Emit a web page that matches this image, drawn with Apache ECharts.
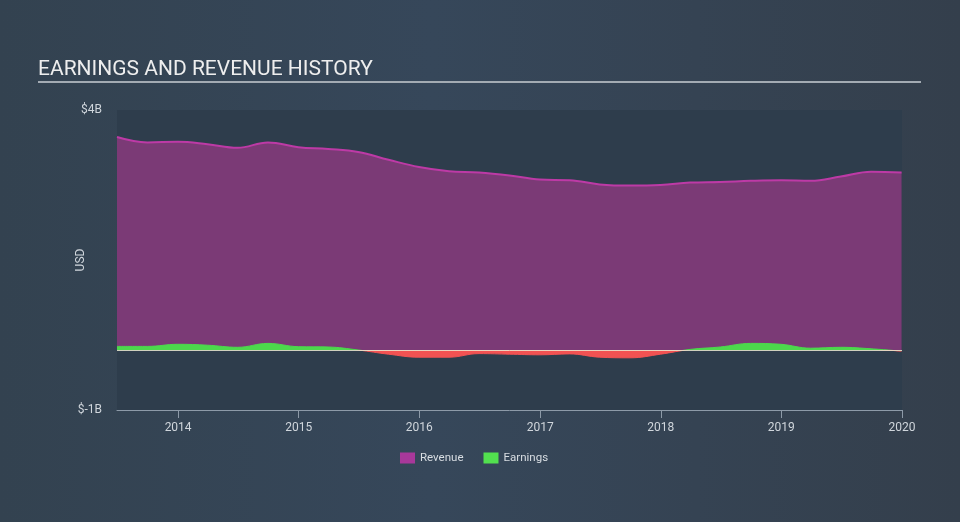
<!DOCTYPE html>
<html>
<head>
<meta charset="utf-8">
<script src="https://cdn.jsdelivr.net/npm/echarts@6/dist/echarts.min.js"></script>
<style>
html,body{margin:0;padding:0;width:960px;height:522px;overflow:hidden;}
body{background:linear-gradient(90deg,#334250 0%,#36475a 45%,#343f4c 100%);}
#chart{width:960px;height:522px;}
</style>
</head>
<body>
<div id="chart"></div>
<script>
const dates = ['2013-06-30','2013-09-30','2013-12-31','2014-03-31','2014-06-30','2014-09-30','2014-12-31',
  '2015-03-31','2015-06-30','2015-09-30','2015-12-31','2016-03-31','2016-06-30','2016-09-30','2016-12-31',
  '2017-03-31','2017-06-30','2017-09-30','2017-12-31','2018-03-31','2018-06-30','2018-09-30','2018-12-31',
  '2019-03-31','2019-06-30','2019-09-30','2019-12-31'];
const revenue = [3.55,3.46,3.47,3.43,3.37,3.46,3.38,3.35,3.30,3.17,3.05,2.98,2.96,2.91,2.84,2.83,2.76,2.74,2.75,2.79,2.80,2.82,2.83,2.82,2.89,2.97,2.96];
const earnings = [0.06,0.06,0.095,0.08,0.045,0.11,0.055,0.05,0.0,-0.07,-0.12,-0.12,-0.06,-0.07,-0.08,-0.065,-0.12,-0.13,-0.07,0.01,0.05,0.11,0.095,0.03,0.045,0.02,-0.02];
const yTicks = [-1, 4];

const chart = echarts.init(document.getElementById('chart'), null, {renderer:'canvas'});
const ts = s => new Date(s + 'T00:00:00Z').getTime();
const YEAR = 365.25 * 24 * 3600 * 1000;
chart.setOption({
  backgroundColor: 'transparent',
  useUTC: true,
  textStyle: {fontFamily: 'Roboto, "Noto Sans", sans-serif'},
  title: {
    text: 'EARNINGS AND REVENUE HISTORY',
    left: 38, top: 59, padding: 0,
    textStyle: {color: '#eeeeee', fontSize: 21, fontWeight: 'normal', fontFamily: 'Roboto'}
  },
  graphic: [{
    type: 'rect', shape: {x: 38, y: 81, width: 883, height: 2},
    style: {fill: '#a3abb3'}, silent: true
  }],
  legend: {
    data: ['Revenue', 'Earnings'],
    left: 395, top: 447,
    itemWidth: 15, itemHeight: 11, itemGap: 20,
    icon: 'rect',
    textStyle: {color: '#d8dde2', fontSize: 11.5}
  },
  grid: {
    left: 117, right: 58, top: 110, bottom: 112,
    show: true, backgroundColor: '#2e3d4c', borderWidth: 0
  },
  xAxis: {
    type: 'time',
    min: ts('2013-06-30'), max: ts('2020-01-01') + 6 * 3600 * 1000,
    minInterval: YEAR, maxInterval: YEAR,
    axisLine: {show: true, onZero: false, lineStyle: {color: '#8d9aa8', width: 1}},
    axisTick: {show: true, length: 8, lineStyle: {color: '#8d9aa8'}},
    axisLabel: {
      color: '#d0d6dc', fontSize: 12, margin: 12, showMaxLabel: true,
      formatter: v => String(new Date(v).getUTCFullYear())
    },
    splitLine: {show: false}
  },
  yAxis: {
    type: 'value', min: -1, max: 4,
    name: 'USD', nameLocation: 'middle', nameGap: 30, nameRotate: 90,
    nameMoveOverlap: false,
    nameTextStyle: {color: '#d0d6dc', fontSize: 12},
    axisLine: {show: false}, axisTick: {show: false},
    axisLabel: {
      color: '#d0d6dc', fontSize: 12, margin: 15,
      customValues: yTicks,
      formatter: v => '$' + v + 'B'
    },
    splitLine: {show: false}
  },
  visualMap: {
    type: 'piecewise', show: false, seriesIndex: 1, dimension: 1,
    pieces: [{gt: 0, lte: 4, color: '#4cd84c'}, {gte: -1, lte: 0, color: '#f25252'}]
  },
  series: [{
    name: 'Revenue', type: 'line', smooth: 0.4, symbol: 'none',
    data: dates.map((d, i) => [ts(d), revenue[i]]),
    itemStyle: {color: '#a8389a'},
    lineStyle: {color: '#bd3aa6', width: 2},
    areaStyle: {color: '#7b3a76', opacity: 1},
    z: 2
  }, {
    name: 'Earnings', type: 'line', smooth: 0.4, symbol: 'none',
    data: dates.map((d, i) => [ts(d), earnings[i]]),
    itemStyle: {color: '#52e04f'},
    lineStyle: {width: 1},
    areaStyle: {opacity: 1},
    z: 3
  }, {
    name: 'zero', type: 'line', symbol: 'none', silent: true,
    data: [],
    markLine: {
      silent: true, symbol: 'none', label: {show: false},
      lineStyle: {color: 'rgba(235,235,210,0.85)', width: 1, type: 'solid'},
      data: [{yAxis: 0}]
    },
    z: 4
  }]
});
</script>
</body>
</html>
